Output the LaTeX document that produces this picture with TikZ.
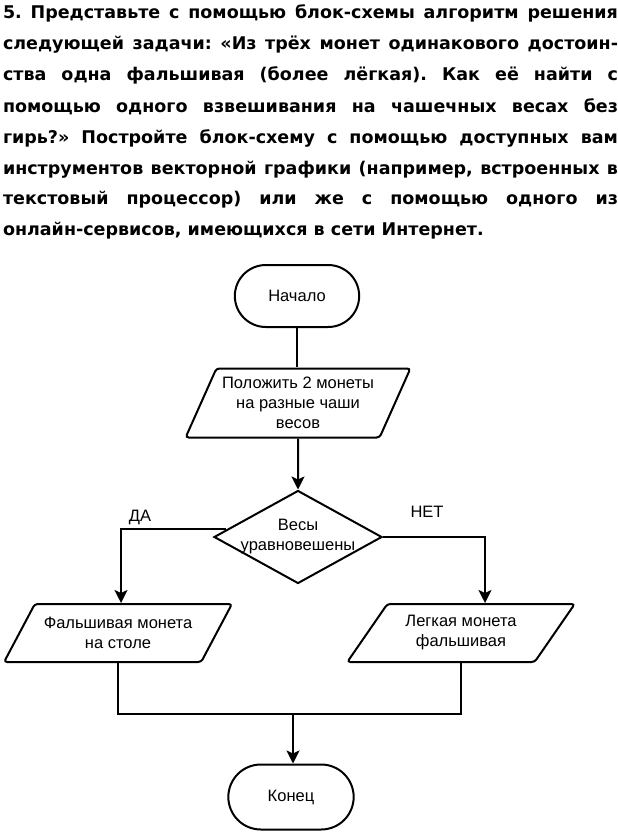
\documentclass[tikz,border=0pt]{standalone}
\usepackage{fontspec}
\setmainfont{Liberation Sans}
\newfontfamily\taskfont{DejaVu Sans}
\usetikzlibrary{shapes.geometric,shapes.misc,arrows.meta}

\begin{document}
\begin{tikzpicture}[
    x=1pt,
    y=-1pt,
    line width=2pt,
    every node/.style={font=\fontsize{16.5}{20}\selectfont},
    term/.style={draw, rounded rectangle, minimum width=131pt, minimum height=62pt},
    io/.style={draw, trapezium, trapezium stretches=true, trapezium left angle=61,
      trapezium right angle=119, rounded corners=3pt, align=center, inner sep=0pt},
    cond/.style={draw, diamond, minimum width=168pt, minimum height=93pt,
      inner xsep=-30pt, inner ysep=0pt, align=center},
    arr/.style={-{Stealth[length=13pt,width=13pt,inset=3pt]}}
  ]
    \useasboundingbox (0,0) rectangle (618,835);
    \node[anchor=base west, inner sep=0pt, text width=615pt, align=justify,
      font=\fontsize{17.5}{31}\selectfont\taskfont\bfseries]
      (task) at (2,19) {\frenchspacing\tolerance=10000 \hyphenpenalty=10000 \exhyphenpenalty=10000\relax
      5. Представьте с помощью блок-схемы алгоритм решения\linebreak
      следующей задачи: «Из трёх монет одинакового достоин-\linebreak
      ства одна фальшивая (более лёгкая). Как её найти с\linebreak
      помощью одного взвешивания на чашечных весах без\linebreak
      гирь?» Постройте блок-схему с помощью доступных вам\linebreak
      инструментов векторной графики (например, встроенных в\linebreak
      текстовый процессор) или же с помощью одного из\linebreak
      онлайн-сервисов, имеющихся в сети Интернет.};
    \node[term] (start) at (297,296) {Начало};
    \node[io, minimum width=225pt, minimum height=69pt] (put) at (298,403) {Положить 2 монеты\\на разные чаши\\весов};
    \node[cond] (check) at (298,537) {Весы\\уравновешены};
    \node[io, minimum width=228pt, minimum height=58pt, trapezium left angle=49,
      trapezium right angle=131] (fake) at (118,633) {Фальшивая монета\\на столе};
    \node[io, minimum width=228pt, minimum height=58pt, trapezium left angle=49,
      trapezium right angle=131] (light) at (461,633) {Легкая монета\\фальшивая};
    \node[term, minimum width=132pt, minimum height=65pt] (stop) at (291,797) {Конец};
    \node (yes) at (140,517) {ДА};
    \node (no) at (427,512) {НЕТ};
    \coordinate (merge) at (293,714);
    \draw (start.south) -- (start.south |- put.north);
    \draw[arr] (put.south) -- (check.north);
    \draw[arr] (check.174) -| ([xshift=3pt]fake.north);
    \draw[arr] (check.east) -| ([xshift=24pt]light.north);
    \draw (fake.south) |- (merge) -| (light.south);
    \draw[arr] (merge) -- (merge |- stop.north);
  \end{tikzpicture}
\end{document}
